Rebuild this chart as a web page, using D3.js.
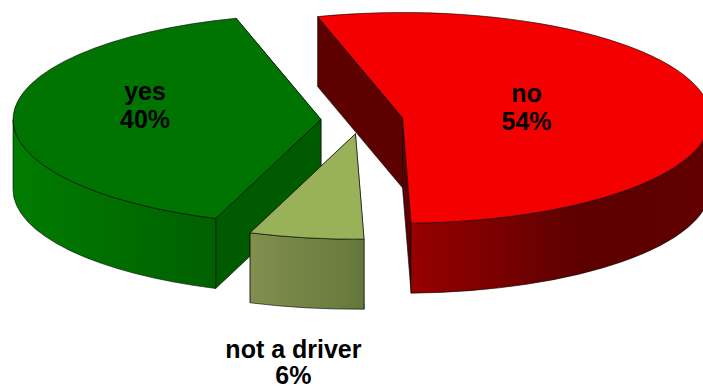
<!DOCTYPE html>
<html>
<head>
<meta charset="utf-8">
<script src="https://cdn.jsdelivr.net/npm/d3@7"></script>
<style>
    html, body { margin: 0; padding: 0; background: #fff; overflow: hidden; }
    svg { display: block; }
</style>
</head>
<body>
<div id="chart"></div>
<script>
// Data
const categories = ['no', 'not a driver', 'yes'];
const percents = [54, 6, 40];

// Layout
const width = 703, height = 390;
const cx = 362, cy = 120;          // centre of the unexploded pie
const rx = 308;                    // horizontal radius
const tilt = 0.342;                // vertical squash of the ellipse
const ry = rx * tilt;
const depth = 70;                  // wall height
const explode = 41;
const firstAngle = -16 * Math.PI / 180;

// Slice styles, same order as categories
const topColors = ['#f50000', '#99b25a', '#007400'];
const cutColors = ['#5c0000', '#5f7036', '#005a00'];
const rimStops = [
    [['0%', '#980000'], ['55%', '#5e0000'], ['100%', '#600000']],
    [['0%', '#828f4e'], ['100%', '#65783c']],
    [['0%', '#007c00'], ['100%', '#006000']]
];
// Label baseline relative to the slice's own centre
const labelOffset = [[124, -16], [-62, 224], [-176, -20]];
const labelLeading = [28.5, 26.5, 28.5];   // bottom label has to stay inside the page
const labelSize = 25;

const svg = d3.select('#chart').append('svg')
    .attr('width', width).attr('height', height)
    .attr('viewBox', `0 0 ${width} ${height}`);

const defs = svg.append('defs');
const g = svg.append('g');

const pie = d3.pie().sort(null).startAngle(firstAngle).endAngle(firstAngle + 2 * Math.PI);
const arcs = pie(percents);
const arcGen = d3.arc().innerRadius(0).outerRadius(rx);

const slices = arcs.map((a, i) => {
    const mid = (a.startAngle + a.endAngle) / 2;
    return {
        i,
        a0: a.startAngle,
        a1: a.endAngle,
        x: cx + explode * Math.sin(mid),
        y: cy - explode * Math.cos(mid) * tilt
    };
});

const rim = (s, t) => [s.x + rx * Math.sin(t), s.y - ry * Math.cos(t)];

// Wall under the straight cut, from the apex to the rim at angle t
function cutPath(s, t) {
    const p = rim(s, t);
    return `M${s.x},${s.y}L${p[0]},${p[1]}L${p[0]},${p[1] + depth}L${s.x},${s.y + depth}Z`;
}

// Outer wall on the front half of the ellipse only
function rimPath(s) {
    const t0 = Math.max(s.a0, Math.PI / 2);
    const t1 = Math.min(s.a1, 3 * Math.PI / 2);
    const p0 = rim(s, t0), p1 = rim(s, t1);
    return `M${p0[0]},${p0[1]}A${rx},${ry} 0 0 1 ${p1[0]},${p1[1]}` +
        `L${p1[0]},${p1[1] + depth}A${rx},${ry} 0 0 0 ${p0[0]},${p0[1] + depth}Z`;
}

function rimGradient(s) {
    const t0 = Math.max(s.a0, Math.PI / 2);
    const t1 = Math.min(s.a1, 3 * Math.PI / 2);
    const xs = [rim(s, t0)[0], rim(s, t1)[0]];
    const grad = defs.append('linearGradient')
        .attr('id', `rim-${s.i}`)
        .attr('gradientUnits', 'userSpaceOnUse')
        .attr('x1', Math.min(...xs)).attr('x2', Math.max(...xs))
        .attr('y1', 0).attr('y2', 0);
    rimStops[s.i].forEach(d => grad.append('stop').attr('offset', d[0]).attr('stop-color', d[1]));
}

// Paint back to front: red, green, then the small wedge on top
[slices[0], slices[2], slices[1]].forEach(s => {
    rimGradient(s);
    const piece = g.append('g').attr('class', 'slice');

    // the cut that reaches lowest on the page goes last so it hides the back one
    [s.a0, s.a1]
        .sort((a, b) => rim(s, a)[1] - rim(s, b)[1])
        .forEach(t => {
            piece.append('path')
                .attr('d', cutPath(s, t))
                .attr('fill', cutColors[s.i])
                .attr('stroke', '#000').attr('stroke-width', 0.6);
        });

    piece.append('path')
        .attr('d', rimPath(s))
        .attr('fill', `url(#rim-${s.i})`)
        .attr('stroke', '#000').attr('stroke-width', 0.6);

    piece.append('path')
        .attr('d', arcGen({ startAngle: s.a0, endAngle: s.a1 }))
        .attr('transform', `translate(${s.x},${s.y}) scale(1,${tilt})`)
        .attr('fill', topColors[s.i])
        .attr('stroke', '#000').attr('stroke-width', 0.6)
        .attr('vector-effect', 'non-scaling-stroke');
});

// Labels
slices.forEach(s => {
    const lx = s.x + labelOffset[s.i][0];
    const ly = s.y + labelOffset[s.i][1];
    const text = g.append('text')
        .attr('text-anchor', 'middle')
        .attr('font-family', '"Liberation Sans", Arial, sans-serif')
        .attr('font-weight', 'bold')
        .attr('font-size', labelSize)
        .attr('fill', '#000');
    text.append('tspan').attr('x', lx).attr('y', ly).text(categories[s.i]);
    text.append('tspan').attr('x', lx).attr('y', ly + labelLeading[s.i]).text(`${percents[s.i]}%`);
});
</script>
</body>
</html>
